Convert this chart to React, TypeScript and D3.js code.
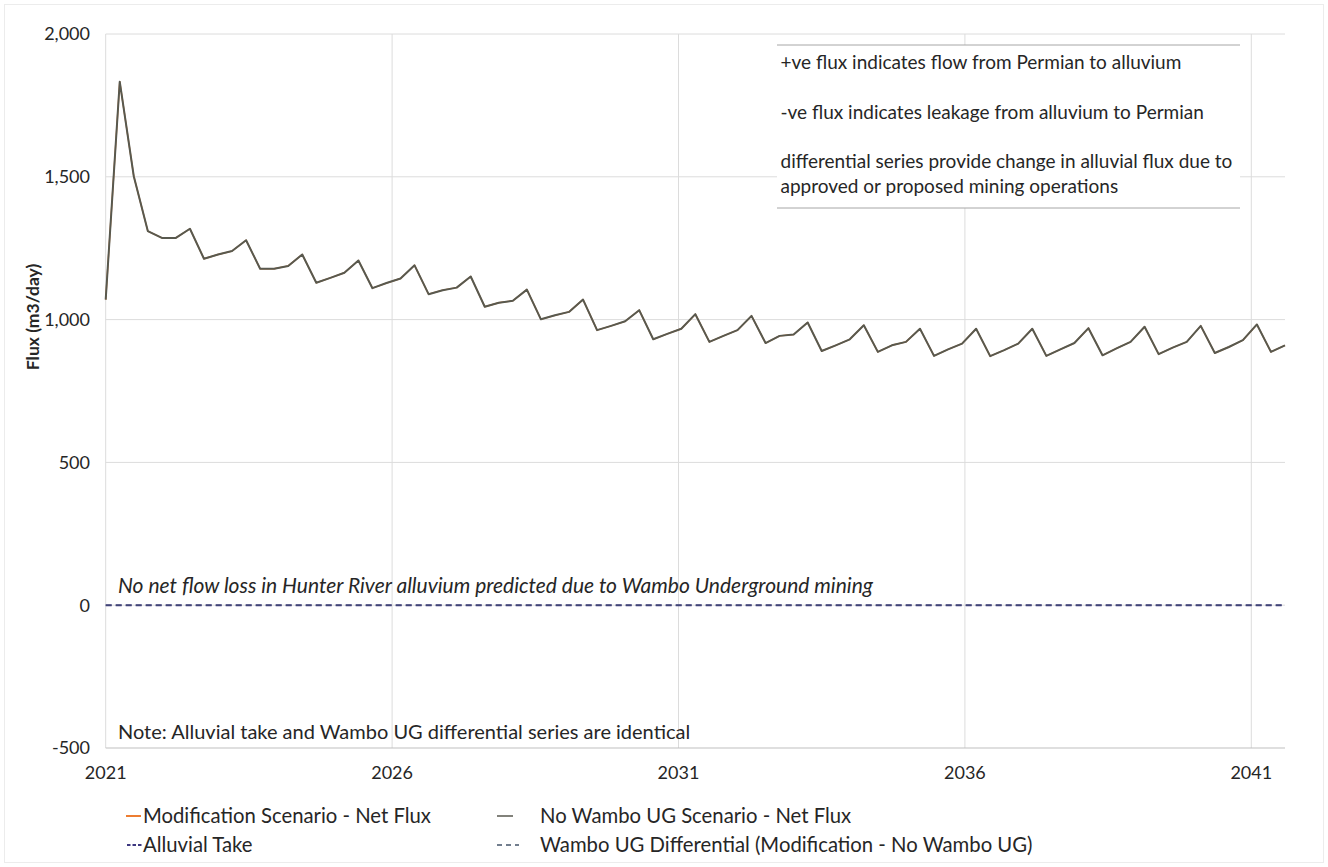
import React from "react";
import * as d3 from "d3";

// ---- data ----
const START_YEAR = 2021;
const STEP_YEARS = 0.2451; // spacing of model output times (years)

const noWamboFlux = [
  1070, 1833, 1502, 1310, 1286, 1286, 1318, 1213, 1228, 1240,
  1278, 1178, 1178, 1188, 1228, 1129, 1146, 1164, 1207, 1110,
  1128, 1144, 1190, 1089, 1103, 1112, 1151, 1045, 1059, 1066,
  1105, 1001, 1015, 1027, 1070, 963, 978, 994, 1033, 931,
  950, 968, 1019, 922, 943, 963, 1013, 918, 943, 948,
  990, 890, 910, 931, 980, 887, 910, 922, 968, 873,
  896, 916, 968, 872, 893, 916, 968, 873, 896, 918,
  970, 875, 899, 922, 975, 879, 902, 922, 978, 883,
  904, 928, 983, 887, 910,
];

const modificationFlux = [
  1070, 1833, 1502, 1310, 1286, 1286, 1318, 1213, 1228, 1240,
  1278, 1178, 1178, 1188, 1228, 1129, 1146, 1164, 1207, 1110,
  1128, 1144, 1190, 1089, 1103, 1112, 1151, 1045, 1059, 1066,
  1105, 1001, 1015, 1027, 1070, 963, 978, 994, 1033, 931,
  950, 968, 1019, 922, 943, 963, 1013, 918, 943, 948,
  990, 890, 910, 931, 980, 887, 910, 922, 968, 873,
  896, 916, 968, 872, 893, 916, 968, 873, 896, 918,
  970, 875, 899, 922, 975, 879, 902, 922, 978, 883,
  904, 928, 983, 887, 910,
];

const alluvialTake = [
  0, 0, 0, 0, 0, 0, 0, 0, 0, 0, 0, 0, 0, 0, 0, 0, 0, 0, 0, 0,
  0, 0, 0, 0, 0, 0, 0, 0, 0, 0, 0, 0, 0, 0, 0, 0, 0, 0, 0, 0,
  0, 0, 0, 0, 0, 0, 0, 0, 0, 0, 0, 0, 0, 0, 0, 0, 0, 0, 0, 0,
  0, 0, 0, 0, 0, 0, 0, 0, 0, 0, 0, 0, 0, 0, 0, 0, 0, 0, 0, 0,
  0, 0, 0, 0, 0,
];

const wamboDifferential = [
  0, 0, 0, 0, 0, 0, 0, 0, 0, 0, 0, 0, 0, 0, 0, 0, 0, 0, 0, 0,
  0, 0, 0, 0, 0, 0, 0, 0, 0, 0, 0, 0, 0, 0, 0, 0, 0, 0, 0, 0,
  0, 0, 0, 0, 0, 0, 0, 0, 0, 0, 0, 0, 0, 0, 0, 0, 0, 0, 0, 0,
  0, 0, 0, 0, 0, 0, 0, 0, 0, 0, 0, 0, 0, 0, 0, 0, 0, 0, 0, 0,
  0, 0, 0, 0, 0,
];

const xTicks = [2021, 2026, 2031, 2036, 2041];
const yTicks = [-500, 0, 500, 1000, 1500, 2000];

const yAxisTitle = "Flux (m3/day)";
const infoLines = [
  "+ve flux indicates flow from Permian to alluvium",
  "-ve flux indicates leakage from alluvium to Permian",
  "differential series provide change in alluvial flux due to",
  "approved or proposed mining operations",
];
const zeroNote =
  "No net flow loss in Hunter River alluvium predicted due to Wambo Underground mining";
const bottomNote = "Note: Alluvial take and Wambo UG differential series are identical";

const seriesNames = [
  "Modification Scenario - Net Flux",
  "No Wambo UG Scenario - Net Flux",
  "Alluvial Take",
  "Wambo UG Differential (Modification - No Wambo UG)",
];

// ---- layout ----
const W = 1328;
const H = 867;
const plot = { left: 105.7, right: 1285, top: 34, bottom: 748 };
const FONT = "Lato, 'Open Sans', sans-serif";
const GRID = "#dcdcdc";
const TEXT = "#262626";
const LEG_FS = 20.3;

export default function App() {
  const n = noWamboFlux.length;
  const tAt = (i: number) => START_YEAR + i * STEP_YEARS;
  const x = d3
    .scaleLinear()
    .domain([START_YEAR, tAt(n - 1)])
    .range([plot.left, plot.right]);
  const y = d3.scaleLinear().domain([-500, 2000]).range([plot.bottom, plot.top]);
  const fmt = (v: number) => d3.format(",")(v).replace("\u2212", "-");

  const line = d3
    .line<number>()
    .x((_, i) => x(tAt(i)))
    .y((d) => y(d));

  const boxX1 = 777;
  const boxX2 = 1240;
  const boxY1 = 45;
  const boxY2 = 208;

  return (
    <svg
      width={W}
      height={H}
      style={{ position: "absolute", left: 0, top: 0, background: "#fff" }}
      fontFamily={FONT}
    >
      <rect x={0} y={0} width={W} height={H} fill="#fff" />
      <rect x={4.5} y={4.5} width={W - 9} height={H - 9} fill="none" stroke="#ececec" />

      {/* horizontal gridlines */}
      {yTicks
        .filter((t) => t !== -500)
        .map((t) => (
          <line
            key={"hg" + t}
            x1={plot.left}
            x2={plot.right}
            y1={y(t)}
            y2={y(t)}
            stroke={GRID}
            strokeWidth={1}
          />
        ))}
      {/* vertical gridlines */}
      {xTicks.map((t) => (
        <line
          key={"vg" + t}
          x1={x(t)}
          x2={x(t)}
          y1={plot.top}
          y2={plot.bottom}
          stroke={GRID}
          strokeWidth={1}
        />
      ))}
      {/* axis line */}
      <line
        x1={plot.left}
        x2={plot.right}
        y1={y(-500)}
        y2={y(-500)}
        stroke="#bfbfbf"
        strokeWidth={1}
      />

      {/* info box */}
      <rect x={boxX1} y={boxY1} width={boxX2 - boxX1} height={boxY2 - boxY1} fill="#fff" />
      <line x1={boxX1} x2={boxX2} y1={boxY1} y2={boxY1} stroke="#a6a6a6" strokeWidth={1} />
      <line x1={boxX1} x2={boxX2} y1={boxY2} y2={boxY2} stroke="#a6a6a6" strokeWidth={1} />
      {infoLines.map((s, i) => (
        <text
          key={"info" + i}
          x={780.5}
          y={[69, 119, 167.5, 192.5][i]}
          fontSize={19}
          fill={TEXT}
        >
          {s}
        </text>
      ))}

      {/* zero series */}
      <path
        d={line(alluvialTake) || ""}
        fill="none"
        stroke="#3d3780"
        strokeWidth={2}
        strokeDasharray="6,4"
      />
      <path
        d={line(wamboDifferential) || ""}
        fill="none"
        stroke="#44546a"
        strokeWidth={1.5}
        strokeDasharray="6,4"
        opacity={0.5}
      />

      {/* net flux series */}
      <path
        d={line(modificationFlux) || ""}
        fill="none"
        stroke="#ed7d31"
        strokeWidth={1.4}
        strokeLinejoin="round"
      />
      <path
        d={line(noWamboFlux) || ""}
        fill="none"
        stroke="#58594f"
        strokeWidth={2}
        strokeLinejoin="round"
      />

      {/* notes */}
      <text x={118} y={593} fontSize={21} fontStyle="italic" fill={TEXT}>
        {zeroNote}
      </text>
      <text x={118} y={739} fontSize={20} fill={TEXT}>
        {bottomNote}
      </text>

      {/* y tick labels */}
      {yTicks.map((t) => (
        <text
          key={"yl" + t}
          x={90}
          y={y(t)}
          dy="0.35em"
          textAnchor="end"
          fontSize={18}
          fill={TEXT}
        >
          {fmt(t)}
        </text>
      ))}
      {/* x tick labels */}
      {xTicks.map((t) => (
        <text
          key={"xl" + t}
          x={x(t)}
          y={779}
          textAnchor="middle"
          fontSize={18}
          fill={TEXT}
        >
          {t}
        </text>
      ))}

      {/* y axis title */}
      <text
        transform={`translate(39,317) rotate(-90)`}
        textAnchor="middle"
        fontSize={17.5}
        fontWeight="bold"
        fill={TEXT}
      >
        {yAxisTitle}
      </text>

      {/* legend */}
      <g>
        <line x1={126} x2={141} y1={816} y2={816} stroke="#ed7d31" strokeWidth={2} />
        <text x={143} y={816} dy="0.35em" fontSize={LEG_FS} fill={TEXT}>
          {seriesNames[0]}
        </text>
        <line x1={497} x2={513} y1={816} y2={816} stroke="#58594f" strokeWidth={1.5} />
        <text x={540} y={816} dy="0.35em" fontSize={LEG_FS} fill={TEXT}>
          {seriesNames[1]}
        </text>
        <line
          x1={127}
          x2={142}
          y1={845}
          y2={845}
          stroke="#3d3780"
          strokeWidth={1.8}
          strokeDasharray="3.5,2"
        />
        <text x={143} y={845} dy="0.35em" fontSize={LEG_FS} fill={TEXT}>
          {seriesNames[2]}
        </text>
        <line
          x1={497}
          x2={519}
          y1={845}
          y2={845}
          stroke="#44546a"
          strokeWidth={1.5}
          strokeDasharray="5,4"
        />
        <text x={540} y={845} dy="0.35em" fontSize={LEG_FS} fill={TEXT}>
          {seriesNames[3]}
        </text>
      </g>
    </svg>
  );
}
